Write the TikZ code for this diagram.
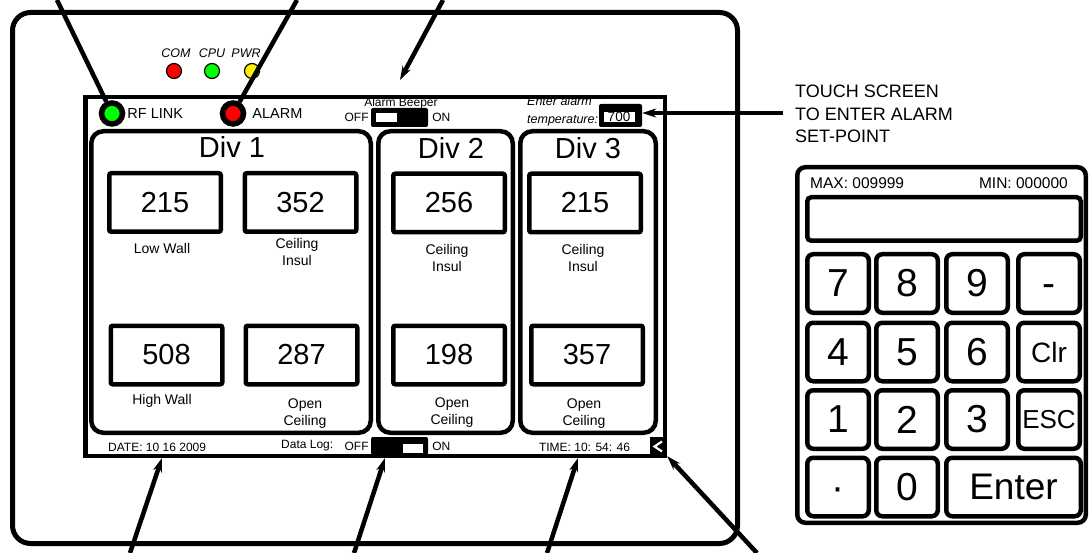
\documentclass[tikz,border=0pt]{standalone}
\usepackage{fontspec}
\setmainfont{Liberation Sans}
\usetikzlibrary{positioning,calc,arrows.meta}

\begin{document}
\begin{tikzpicture}[x=1pt, y=-1pt,
    bezel/.style={draw, line width=5pt, rounded corners=18pt, inner sep=0pt},
    scr/.style={draw, line width=4.5pt, inner sep=0pt},
    panel/.style={draw, line width=4.5pt, rounded corners=12pt, minimum height=301.5pt, inner sep=0pt},
    divtitle/.style={inner sep=0pt, font=\fontsize{29}{30}\selectfont},
    valbox/.style={draw, line width=4.5pt, rounded corners=2pt, minimum width=111.5pt, minimum height=58.5pt, font=\fontsize{29}{30}\selectfont},
    lbl/.style={align=center, inner sep=0pt, font=\fontsize{14}{17.5}\selectfont},
    smalltxt/.style={inner sep=0pt, font=\fontsize{12}{14}\selectfont},
    ledlbl/.style={inner sep=0pt, font=\fontsize{12.5}{14}\selectfont\itshape},
    bartxt/.style={inner sep=0pt, font=\fontsize{14.5}{16}\selectfont},
    led/.style={circle, draw, line width=1.2pt, minimum size=15pt, inner sep=0pt},
    bigled/.style={circle, draw, line width=5.5pt, minimum size=21pt, inner sep=0pt},
    swbody/.style={fill=black, rounded corners=2pt, inner sep=0pt},
    swknob/.style={fill=white, inner sep=0pt},
    key/.style={draw, line width=4.5pt, rounded corners=6pt, minimum width=61.5pt, minimum height=58.5pt, inner sep=0pt, font=\fontsize{39}{40}\selectfont},
    lead/.style={line width=4.5pt},
    arrow/.style={lead, -{Stealth[length=14pt, width=9pt]}}]

    \useasboundingbox (0,0) rectangle (1092,553);

    % Housing and screen
    \node[bezel, minimum width=725pt, minimum height=531pt] (bezel) at (375,278) {};
    \node[scr, minimum width=579.5pt, minimum height=358.5pt] (screen) at (375,276.5) {};

    % Status LEDs
    \node[led, fill=red] (com) at (174,71) {};
    \node[led, fill=green] (cpu) at (212,71) {};
    \node[led, fill=yellow] (pwr) at (252,71) {};
    \node[ledlbl] (comlbl) at (176,53.5) {COM};
    \node[ledlbl] (cpulbl) at (212,53.5) {CPU};
    \node[ledlbl] (pwrlbl) at (246,53.5) {PWR};

    % Top bar
    \node[bigled, fill=green] (rfled) at (112,113.5) {};
    \node[bartxt, right=2pt of rfled] (rflink) {RF LINK};
    \node[bigled, fill=red] (alarmled) at (233,113.5) {};
    \node[bartxt, right=6pt of alarmled] (alarm) {ALARM};
    \node[smalltxt] (beeper) at (401,103) {Alarm Beeper};
    \node[swbody, minimum width=57pt, minimum height=19pt] (beepsw) at (399.5,117.5) {};
    \node[swknob, minimum width=21pt, minimum height=9pt] (beepknob) at (386.5,117.5) {};
    \node[smalltxt, left=2pt of beepsw] (beepoff) {OFF};
    \node[smalltxt, right=4pt of beepsw] (beepon) {ON};
    \node[ledlbl, align=left, anchor=west, font=\fontsize{12.5}{18}\selectfont\itshape] (entertxt) at (527,111.5) {Enter alarm\\temperature:};
    \node[swbody, minimum width=43pt, minimum height=23pt] (tempbox) at (620.5,115.5) {};
    \node[swknob, minimum width=31pt, minimum height=10pt, font=\fontsize{13.5}{14}\selectfont] (tempval) at (619,117) {700};

    % Divisions
    \node[panel, minimum width=279.5pt] (div1) at (231,282) {};
    \node[panel, minimum width=134.5pt] (div2) at (445.5,282) {};
    \node[panel, minimum width=135.5pt] (div3) at (588,282) {};
    \node[divtitle] (div1lbl) at (232,147) {Div 1};
    \node[divtitle] (div2lbl) at (451,148) {Div 2};
    \node[divtitle] (div3lbl) at (588,148) {Div 3};

    % Div 1 readings
    \node[valbox] (d1a) at (165,202.5) {215};
    \node[valbox] (d1b) at (300.5,202.5) {352};
    \node[valbox] (d1c) at (166.5,355) {508};
    \node[valbox] (d1d) at (301.5,355) {287};
    \node[lbl] (d1alab) at (162,248) {Low Wall};
    \node[lbl] (d1blab) at (297,252) {Ceiling\\Insul};
    \node[lbl] (d1clab) at (162,401) {High Wall};
    \node[lbl] (d1dlab) at (305,413.5) {Open\\Ceiling};

    % Div 2 readings
    \node[valbox] (d2a) at (449,203) {256};
    \node[valbox] (d2b) at (449,355) {198};
    \node[lbl] (d2alab) at (447,258) {Ceiling\\Insul};
    \node[lbl] (d2blab) at (452,412.5) {Open\\Ceiling};

    % Div 3 readings
    \node[valbox] (d3a) at (585,203) {215};
    \node[valbox] (d3b) at (587,355) {357};
    \node[lbl] (d3alab) at (583,258) {Ceiling\\Insul};
    \node[lbl] (d3blab) at (584,413.5) {Open\\Ceiling};

    % Status bar
    \node[smalltxt, anchor=west] (date) at (108,447.5) {DATE: 10 16 2009};
    \node[swbody, minimum width=57pt, minimum height=18pt] (logsw) at (399.5,446) {};
    \node[swknob, minimum width=20pt, minimum height=9pt] (logknob) at (413,448) {};
    \node[smalltxt, left=2pt of logsw] (logoff) {OFF};
    \node[smalltxt, left=11pt of logoff] (datalog) {Data Log:};
    \node[smalltxt, right=4pt of logsw] (logon) {ON};
    \node[smalltxt] (time) at (584.5,447.5) {TIME: 10: 54: 46};
    \node[swbody, rounded corners=0pt, minimum width=17pt, minimum height=19pt] (back) at (658.5,446.5) {};
    \draw[white, line width=2.2pt] ($(back.center)+(3.5,-5)$) -- ($(back.center)+(-4,0)$) -- ($(back.center)+(3.5,5)$);

    % Keypad
    \node[anchor=west, align=left, inner sep=0pt, font=\fontsize{18}{22.5}\selectfont] (hint) at (795,114) {TOUCH SCREEN\\TO ENTER ALARM\\SET-POINT};
    \node[scr, rounded corners=8pt, minimum width=288.5pt, minimum height=355.5pt] (keypad) at (941.5,345) {};
    \node[anchor=west, inner sep=0pt, font=\fontsize{15.5}{17}\selectfont] (maxlbl) at (810,183) {MAX: 009999};
    \node[anchor=east, inner sep=0pt, font=\fontsize{15.5}{17}\selectfont] (minlbl) at (1068,183) {MIN: 000000};
    \node[scr, rounded corners=4pt, minimum width=273.5pt, minimum height=43.5pt] (display) at (944,219) {};
    \node[key] (k7) at (838,283.5) {7};
    \node[key] (k8) at (907,283.5) {8};
    \node[key] (k9) at (977,283.5) {9};
    \node[key] (kminus) at (1049,283.5) {\vphantom{0}-};
    \node[key] (k4) at (838,352) {4};
    \node[key] (k5) at (907,352) {5};
    \node[key] (k6) at (977,352) {6};
    \node[key, font=\fontsize{28}{30}\selectfont] (kclr) at (1049,352) {Clr};
    \node[key] (k1) at (838,419.5) {1};
    \node[key] (k2) at (907,419.5) {2};
    \node[key] (k3) at (977,419.5) {3};
    \node[key, font=\fontsize{26}{28}\selectfont] (kesc) at (1049,419.5) {ESC};
    \node[key] (kdot) at (838,487) {\vphantom{0}·};
    \node[key] (k0) at (907,487) {0};
    \node[key, minimum width=134.5pt, font=\fontsize{37}{38}\selectfont] (kenter) at (1013.5,487) {Enter};

    % Leaders
    \coordinate (t1) at (57,0);
    \coordinate (t2) at (297,0);
    \coordinate (t3) at (443,0);
    \coordinate (t3tip) at (400,80);
    \coordinate (r1) at (783,113);
    \coordinate (b1) at (130,553);
    \coordinate (b1tip) at (162,458);
    \coordinate (b2) at (354,553);
    \coordinate (b2tip) at (385,458);
    \coordinate (b3) at (547,553);
    \coordinate (b3tip) at (578,458);
    \coordinate (b4) at (757,553);
    \draw[lead] (t1) -- (rfled);
    \draw[lead] (t2) -- (alarmled);
    \draw[arrow] (t3) -- (t3tip);
    \draw[arrow] (r1) -- (r1 -| tempbox.east);
    \draw[arrow] (b1) -- (b1tip);
    \draw[arrow] (b2) -- (b2tip);
    \draw[arrow] (b3) -- (b3tip);
    \draw[arrow] (b4) -- (back.south east);
\end{tikzpicture}
\end{document}
